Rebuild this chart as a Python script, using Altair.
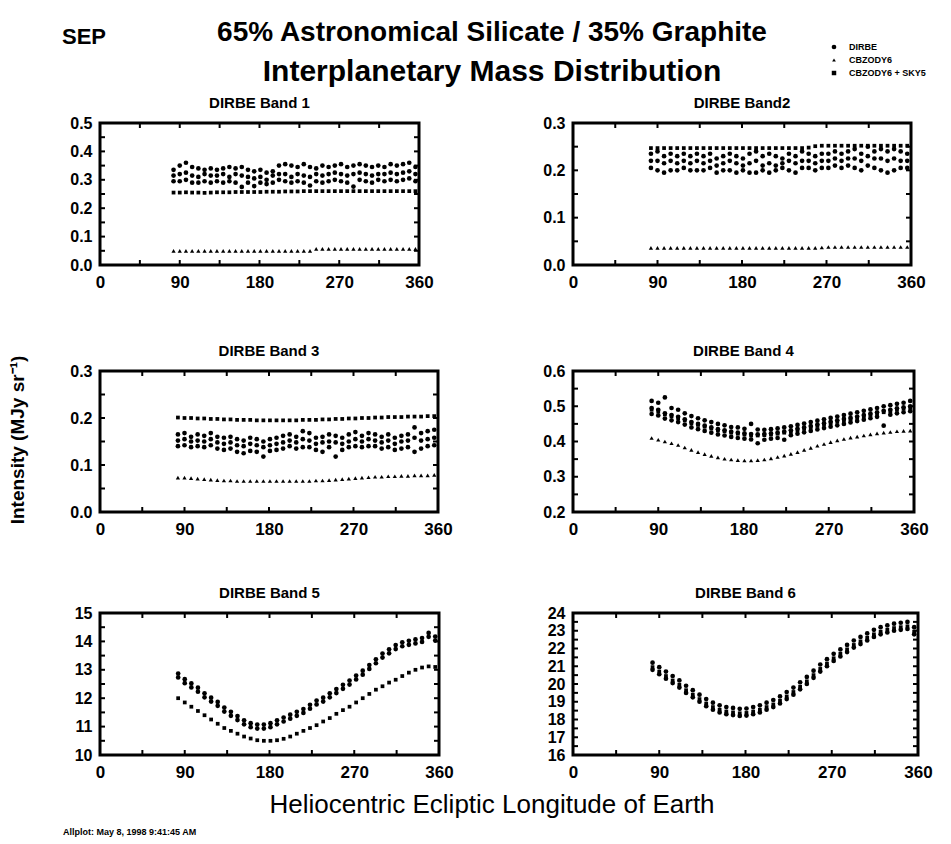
import altair as alt
import pandas as pd

FONT = "Liberation Sans"

LON = [83, 90, 97, 104, 111, 118, 125, 132, 139, 146, 153, 160, 167, 174, 181, 188, 195, 202, 209, 216,
       223, 230, 237, 244, 251, 258, 265, 272, 279, 286, 293, 300, 307, 314, 321, 328, 335, 342, 349, 356]

SERIES = ["DIRBE", "CBZODY6", "CBZODY6 + SKY5"]
SHAPES = ["circle", "triangle-up", "square"]
SIZES = [22, 14, 20]

# ---------------- Band 1 ----------------
b1_dirbe_hi = [0.335, 0.35, 0.36, 0.345, 0.34, 0.335, 0.34, 0.335, 0.34, 0.345, 0.34, 0.345, 0.335, 0.33, 0.335, 0.325, 0.33, 0.35, 0.355, 0.35,
               0.345, 0.355, 0.345, 0.34, 0.35, 0.345, 0.35, 0.355, 0.345, 0.35, 0.355, 0.35, 0.345, 0.35, 0.345, 0.355, 0.35, 0.355, 0.36, 0.345]
b1_dirbe_mid = [0.315, 0.32, 0.325, 0.315, 0.31, 0.32, 0.315, 0.315, 0.32, 0.31, 0.32, 0.315, 0.31, 0.305, 0.31, 0.3, 0.315, 0.32, 0.32, 0.31,
                0.32, 0.315, 0.31, 0.32, 0.315, 0.32, 0.325, 0.32, 0.315, 0.32, 0.325, 0.32, 0.315, 0.32, 0.32, 0.325, 0.32, 0.325, 0.33, 0.32]
b1_dirbe_lo = [0.295, 0.295, 0.3, 0.29, 0.29, 0.295, 0.29, 0.295, 0.29, 0.295, 0.29, 0.275, 0.29, 0.278, 0.29, 0.285, 0.29, 0.3, 0.295, 0.29,
               0.295, 0.29, 0.28, 0.295, 0.29, 0.295, 0.3, 0.295, 0.29, 0.276, 0.3, 0.295, 0.29, 0.3, 0.295, 0.3, 0.295, 0.3, 0.305, 0.295]
b1_model = [0.05, 0.05, 0.05, 0.05, 0.05, 0.05, 0.05, 0.05, 0.05, 0.05, 0.05, 0.05, 0.05, 0.05, 0.05, 0.05, 0.05, 0.05, 0.05, 0.05,
            0.05, 0.05, 0.05, 0.057, 0.057, 0.057, 0.057, 0.057, 0.057, 0.057, 0.057, 0.057, 0.057, 0.057, 0.057, 0.057, 0.057, 0.057, 0.057, 0.057]
b1_sky = [0.255, 0.255, 0.256, 0.255, 0.255, 0.254, 0.255, 0.256, 0.256, 0.256, 0.257, 0.257, 0.257, 0.257, 0.257, 0.258, 0.258, 0.258, 0.259, 0.259,
          0.259, 0.26, 0.26, 0.26, 0.26, 0.26, 0.26, 0.26, 0.26, 0.26, 0.26, 0.26, 0.26, 0.26, 0.26, 0.26, 0.26, 0.26, 0.26, 0.26]

# ---------------- Band 2 ----------------
b2_dirbe_hi = [0.235, 0.24, 0.23, 0.235, 0.23, 0.235, 0.23, 0.235, 0.23, 0.235, 0.225, 0.23, 0.235, 0.23, 0.225, 0.235, 0.24, 0.23, 0.235, 0.23,
               0.225, 0.235, 0.23, 0.24, 0.235, 0.23, 0.235, 0.235, 0.24, 0.235, 0.24, 0.245, 0.235, 0.25, 0.24, 0.245, 0.24, 0.245, 0.24, 0.235]
b2_dirbe_mid = [0.22, 0.22, 0.215, 0.22, 0.215, 0.22, 0.215, 0.22, 0.215, 0.22, 0.21, 0.215, 0.22, 0.215, 0.21, 0.215, 0.22, 0.21, 0.215, 0.21,
                0.215, 0.22, 0.215, 0.22, 0.22, 0.215, 0.22, 0.22, 0.225, 0.22, 0.225, 0.225, 0.22, 0.23, 0.225, 0.225, 0.22, 0.225, 0.22, 0.22]
b2_dirbe_lo = [0.205, 0.2, 0.195, 0.2, 0.2, 0.205, 0.2, 0.2, 0.2, 0.205, 0.195, 0.2, 0.2, 0.195, 0.2, 0.195, 0.195, 0.2, 0.195, 0.2,
               0.205, 0.2, 0.195, 0.205, 0.205, 0.2, 0.205, 0.205, 0.21, 0.205, 0.21, 0.205, 0.2, 0.21, 0.205, 0.2, 0.195, 0.2, 0.205, 0.205]
b2_model = [0.036, 0.036, 0.036, 0.036, 0.036, 0.036, 0.036, 0.036, 0.036, 0.036, 0.036, 0.036, 0.036, 0.036, 0.036, 0.036, 0.036, 0.036, 0.036, 0.036,
            0.036, 0.036, 0.036, 0.036, 0.036, 0.036, 0.037, 0.038, 0.038, 0.038, 0.038, 0.038, 0.038, 0.038, 0.038, 0.038, 0.038, 0.038, 0.038, 0.038]
b2_sky = [0.247, 0.247, 0.247, 0.247, 0.247, 0.247, 0.247, 0.247, 0.247, 0.247, 0.247, 0.247, 0.247, 0.247, 0.247, 0.247, 0.247, 0.247, 0.247, 0.247,
          0.247, 0.247, 0.247, 0.247, 0.248, 0.251, 0.252, 0.252, 0.252, 0.252, 0.252, 0.252, 0.252, 0.252, 0.252, 0.252, 0.252, 0.252, 0.252, 0.252]

# ---------------- Band 3 ----------------
b3_dirbe_hi = [0.165, 0.168, 0.16, 0.165, 0.162, 0.168, 0.16, 0.158, 0.16, 0.155, 0.152, 0.158, 0.155, 0.15, 0.155, 0.158, 0.162, 0.165, 0.16, 0.172,
               0.168, 0.158, 0.16, 0.165, 0.162, 0.158, 0.165, 0.17, 0.162, 0.168, 0.165, 0.16, 0.165, 0.158, 0.162, 0.165, 0.18, 0.168, 0.172, 0.175]
b3_dirbe_mid = [0.152, 0.155, 0.15, 0.152, 0.15, 0.155, 0.148, 0.145, 0.148, 0.142, 0.14, 0.145, 0.142, 0.138, 0.142, 0.145, 0.148, 0.152, 0.148, 0.155,
                0.152, 0.145, 0.148, 0.15, 0.148, 0.145, 0.15, 0.155, 0.15, 0.155, 0.152, 0.148, 0.152, 0.145, 0.15, 0.152, 0.158, 0.152, 0.155, 0.158]
b3_dirbe_lo = [0.14, 0.142, 0.138, 0.14, 0.138, 0.142, 0.135, 0.132, 0.135, 0.128, 0.125, 0.13, 0.128, 0.118, 0.13, 0.132, 0.135, 0.14, 0.135, 0.138,
               0.138, 0.132, 0.128, 0.138, 0.118, 0.132, 0.138, 0.14, 0.138, 0.14, 0.14, 0.135, 0.138, 0.132, 0.135, 0.138, 0.128, 0.135, 0.14, 0.142]
b3_model = [0.073, 0.073, 0.072, 0.071, 0.07, 0.069, 0.068, 0.067, 0.067, 0.066, 0.066, 0.066, 0.066, 0.066, 0.066, 0.066, 0.066, 0.066, 0.066, 0.066,
            0.066, 0.067, 0.067, 0.068, 0.069, 0.07, 0.071, 0.072, 0.073, 0.074, 0.075, 0.075, 0.076, 0.076, 0.077, 0.077, 0.078, 0.078, 0.078, 0.079]
b3_sky = [0.201, 0.2, 0.2, 0.199, 0.199, 0.198, 0.198, 0.197, 0.197, 0.196, 0.196, 0.196, 0.195, 0.195, 0.195, 0.195, 0.195, 0.195, 0.195, 0.196,
          0.196, 0.196, 0.197, 0.197, 0.198, 0.198, 0.199, 0.199, 0.2, 0.2, 0.201, 0.201, 0.202, 0.202, 0.202, 0.203, 0.203, 0.203, 0.204, 0.204]

# ---------------- Band 4 ----------------
b4_dirbe_hi = [0.515, 0.51, 0.525, 0.495, 0.49, 0.48, 0.472, 0.466, 0.46, 0.455, 0.45, 0.446, 0.441, 0.44, 0.436, 0.45, 0.434, 0.433, 0.435, 0.437,
               0.44, 0.443, 0.447, 0.451, 0.455, 0.459, 0.463, 0.467, 0.471, 0.475, 0.479, 0.483, 0.487, 0.491, 0.495, 0.5, 0.503, 0.507, 0.51, 0.515]
b4_dirbe_mid = [0.495, 0.49, 0.48, 0.475, 0.47, 0.463, 0.455, 0.45, 0.445, 0.44, 0.435, 0.432, 0.428, 0.425, 0.423, 0.421, 0.42, 0.421, 0.423, 0.425,
                0.428, 0.432, 0.436, 0.44, 0.444, 0.448, 0.452, 0.456, 0.46, 0.464, 0.467, 0.471, 0.475, 0.479, 0.483, 0.487, 0.49, 0.494, 0.497, 0.5]
b4_dirbe_lo = [0.478, 0.474, 0.465, 0.46, 0.455, 0.448, 0.44, 0.435, 0.43, 0.425, 0.42, 0.417, 0.413, 0.41, 0.408, 0.406, 0.395, 0.405, 0.408, 0.41,
               0.405, 0.418, 0.422, 0.426, 0.43, 0.434, 0.438, 0.442, 0.446, 0.45, 0.454, 0.458, 0.462, 0.466, 0.47, 0.445, 0.476, 0.48, 0.483, 0.486]
b4_model = [0.41, 0.405, 0.4, 0.395, 0.39, 0.383, 0.376, 0.37, 0.364, 0.359, 0.355, 0.351, 0.349, 0.347, 0.346, 0.346, 0.347, 0.349, 0.352, 0.356,
            0.36, 0.365, 0.37, 0.376, 0.382, 0.388, 0.393, 0.398, 0.403, 0.407, 0.411, 0.414, 0.417, 0.42, 0.423, 0.425, 0.427, 0.429, 0.43, 0.431]
b4_sky = [0.49, 0.485, 0.477, 0.472, 0.466, 0.46, 0.452, 0.447, 0.442, 0.437, 0.432, 0.429, 0.425, 0.422, 0.42, 0.418, 0.417, 0.418, 0.42, 0.422,
          0.425, 0.428, 0.432, 0.436, 0.44, 0.444, 0.448, 0.452, 0.456, 0.46, 0.463, 0.467, 0.471, 0.475, 0.479, 0.483, 0.486, 0.49, 0.493, 0.496]

# ---------------- Band 5 ----------------
b5_dirbe_hi = [12.87, 12.67, 12.52, 12.37, 12.17, 12.02, 11.87, 11.67, 11.52, 11.37, 11.22, 11.12, 11.07, 11.07, 11.12, 11.22, 11.32, 11.42, 11.52, 11.62,
               11.77, 11.92, 12.02, 12.17, 12.32, 12.47, 12.62, 12.8, 12.97, 13.17, 13.37, 13.57, 13.72, 13.87, 13.97, 14.02, 14.07, 14.12, 14.3, 14.17]
b5_dirbe_lo = [12.73, 12.53, 12.38, 12.23, 12.03, 11.88, 11.73, 11.53, 11.38, 11.23, 11.08, 10.98, 10.93, 10.93, 10.98, 11.08, 11.18, 11.28, 11.38, 11.48,
               11.63, 11.78, 11.88, 12.03, 12.18, 12.33, 12.48, 12.66, 12.83, 13.03, 13.23, 13.43, 13.58, 13.73, 13.83, 13.88, 13.93, 13.98, 14.16, 14.03]
b5_sky = [12.0, 11.85, 11.7, 11.55, 11.4, 11.25, 11.1, 10.95, 10.85, 10.75, 10.65, 10.58, 10.52, 10.5, 10.5, 10.52, 10.57, 10.65, 10.75, 10.85,
          10.95, 11.05, 11.18, 11.3, 11.45, 11.58, 11.7, 11.85, 12.0, 12.15, 12.3, 12.42, 12.55, 12.65, 12.78, 12.9, 13.0, 13.08, 13.12, 13.1]

# ---------------- Band 6 ----------------
b6_dirbe_hi = [21.2, 20.95, 20.7, 20.45, 20.2, 19.9, 19.65, 19.4, 19.15, 18.95, 18.8, 18.7, 18.65, 18.6, 18.62, 18.7, 18.8, 18.95, 19.1, 19.3,
               19.55, 19.8, 20.1, 20.4, 20.75, 21.1, 21.4, 21.7, 21.95, 22.2, 22.45, 22.65, 22.85, 23.05, 23.2, 23.3, 23.4, 23.45, 23.5, 23.2]
b6_dirbe_lo = [20.8, 20.55, 20.3, 20.05, 19.8, 19.5, 19.25, 19.0, 18.75, 18.55, 18.4, 18.3, 18.25, 18.2, 18.22, 18.3, 18.4, 18.55, 18.7, 18.9,
               19.15, 19.4, 19.7, 20.0, 20.35, 20.7, 21.0, 21.3, 21.55, 21.8, 22.05, 22.25, 22.45, 22.65, 22.8, 22.9, 23.0, 23.05, 23.1, 22.8]
b6_sky = [20.95, 20.7, 20.45, 20.2, 19.95, 19.65, 19.4, 19.15, 18.9, 18.7, 18.55, 18.45, 18.4, 18.35, 18.37, 18.45, 18.55, 18.7, 18.85, 19.05,
          19.3, 19.55, 19.85, 20.15, 20.5, 20.85, 21.15, 21.45, 21.7, 21.95, 22.2, 22.4, 22.6, 22.8, 22.95, 23.05, 23.15, 23.2, 23.25, 22.95]

X_LABELS = [0, 90, 180, 270, 360]
X_MINOR = [45, 90, 135, 180, 225, 270, 315]

TITLE_1 = "65% Astronomical Silicate / 35% Graphite"
TITLE_2 = "Interplanetary Mass Distribution"
X_TITLE = "Heliocentric Ecliptic Longitude of Earth"
Y_TITLE = "Intensity (MJy sr\u207b\u00b9)"
STAMP = "Allplot: May 8, 1998 9:41:45 AM"


def band_table(dirbe_lists, model, sky):
    rows = []
    for vals in dirbe_lists:
        rows += [{"lon": l, "val": v, "series": "DIRBE"} for l, v in zip(LON, vals)]
    if model is not None:
        rows += [{"lon": l, "val": v, "series": "CBZODY6"} for l, v in zip(LON, model)]
    if sky is not None:
        rows += [{"lon": l, "val": v, "series": "CBZODY6 + SKY5"} for l, v in zip(LON, sky)]
    return pd.DataFrame(rows)


NOVIEW = alt.ViewBackground(stroke=None)


def panel(df, title, ydom, ymajor, yminor, fmt, w, h=142):
    xs = alt.Scale(domain=[0, 360], nice=False, zero=False)
    ys = alt.Scale(domain=ydom, nice=False, zero=False)
    xax = alt.Axis(values=X_LABELS, format="d", ticks=False, domain=False, grid=False,
                   labelPadding=9, labelFlush=False, labelFontSize=17, labelOverlap=False)
    yax = alt.Axis(values=ymajor, format=fmt, ticks=False, domain=False, grid=False,
                   labelPadding=8, labelFontSize=16, labelOverlap=False, labelFlush=False)
    pts = alt.Chart(df).mark_point(filled=True, opacity=1, color="black").encode(
        x=alt.X("lon:Q", scale=xs, title=None, axis=xax),
        y=alt.Y("val:Q", scale=ys, title=None, axis=yax),
        shape=alt.Shape("series:N", scale=alt.Scale(domain=SERIES, range=SHAPES), legend=None),
        size=alt.Size("series:N", scale=alt.Scale(domain=SERIES, range=SIZES), legend=None),
    )
    xt = alt.Chart(pd.DataFrame({"t": X_MINOR})).mark_rule(color="black", strokeWidth=2)
    bottom = xt.encode(x=alt.X("t:Q", scale=xs, title=None, axis=xax), y=alt.value(h), y2=alt.value(h - 5))
    top = xt.encode(x=alt.X("t:Q", scale=xs, title=None, axis=xax), y=alt.value(0), y2=alt.value(5))
    yt = alt.Chart(pd.DataFrame({"t": yminor})).mark_rule(color="black", strokeWidth=2)
    left = yt.encode(y=alt.Y("t:Q", scale=ys, title=None, axis=yax), x=alt.value(0), x2=alt.value(5))
    right = yt.encode(y=alt.Y("t:Q", scale=ys, title=None, axis=yax), x=alt.value(w), x2=alt.value(w - 5))
    return alt.layer(pts, bottom, top, left, right).properties(
        width=w, height=h,
        title=alt.TitleParams(title, fontSize=15, fontWeight="bold", font=FONT, offset=4, anchor="middle"),
        view=alt.ViewBackground(stroke="black", strokeWidth=3, fill="white"),
    )


def spacer(w, h):
    return alt.Chart(pd.DataFrame({"t": [""]})).mark_text().encode(text="t:N").properties(
        width=w, height=h, view=NOVIEW)


p1 = panel(band_table([b1_dirbe_lo, b1_dirbe_mid, b1_dirbe_hi], b1_model, b1_sky), "DIRBE Band 1",
           [0, 0.5], [0, 0.1, 0.2, 0.3, 0.4, 0.5], [0.05, 0.1, 0.15, 0.2, 0.25, 0.3, 0.35, 0.4, 0.45], ".1f", 319)
p2 = panel(band_table([b2_dirbe_lo, b2_dirbe_mid, b2_dirbe_hi], b2_model, b2_sky), "DIRBE Band2",
           [0, 0.3], [0, 0.1, 0.2, 0.3], [0.05, 0.1, 0.15, 0.2, 0.25], ".1f", 338)
p3 = panel(band_table([b3_dirbe_lo, b3_dirbe_mid, b3_dirbe_hi], b3_model, b3_sky), "DIRBE Band 3",
           [0, 0.3], [0, 0.1, 0.2, 0.3], [0.05, 0.1, 0.15, 0.2, 0.25], ".1f", 338, 141)
p4 = panel(band_table([b4_dirbe_lo, b4_dirbe_mid, b4_dirbe_hi], b4_model, b4_sky), "DIRBE Band 4",
           [0.2, 0.6], [0.2, 0.3, 0.4, 0.5, 0.6], [0.25, 0.3, 0.35, 0.4, 0.45, 0.5, 0.55], ".1f", 341, 141)
p5 = panel(band_table([b5_dirbe_lo, b5_dirbe_hi], None, b5_sky), "DIRBE Band 5",
           [10, 15], [10, 11, 12, 13, 14, 15], [10.5, 11, 11.5, 12, 12.5, 13, 13.5, 14, 14.5], "d", 339)
p6 = panel(band_table([b6_dirbe_lo, b6_dirbe_hi], None, b6_sky), "DIRBE Band 6",
           [16, 24], [16, 17, 18, 19, 20, 21, 22, 23, 24],
           [16.5, 17, 17.5, 18, 18.5, 19, 19.5, 20, 20.5, 21, 21.5, 22, 22.5, 23, 23.5], "d", 345)

# ---- header (first grid cell; texts overflow the cell) ----
sep = alt.Chart(pd.DataFrame({"t": ["SEP"]})).mark_text(
    font=FONT, fontSize=22, fontWeight="bold", align="center", baseline="alphabetic").encode(
    text="t:N", x=alt.value(75), y=alt.value(36))
ttl1 = alt.Chart(pd.DataFrame({"t": [TITLE_1]})).mark_text(
    font=FONT, fontSize=28, fontWeight="bold", align="center", baseline="alphabetic").encode(
    text="t:N", x=alt.value(483), y=alt.value(33))
ttl2 = alt.Chart(pd.DataFrame({"t": [TITLE_2]})).mark_text(
    font=FONT, fontSize=30, fontWeight="bold", align="center", baseline="alphabetic").encode(
    text="t:N", x=alt.value(483), y=alt.value(73))
legend_layers = []
for i, s in enumerate(SERIES):
    row_df = pd.DataFrame({"series": [s]})
    legend_layers.append(alt.Chart(row_df).mark_point(
        shape=SHAPES[i], size=SIZES[i], filled=True, opacity=1, color="black").encode(
        x=alt.value(825), y=alt.value(39 + 13 * i)))
    legend_layers.append(alt.Chart(row_df).mark_text(
        font=FONT, fontSize=9, fontWeight="bold", align="left", baseline="middle").encode(
        text="series:N", x=alt.value(840), y=alt.value(39 + 13 * i)))
header = alt.layer(sep, ttl1, ttl2, *legend_layers).properties(width=91, height=115, view=NOVIEW)

# ---- y title (left cell of the middle row) ----
ytitle = alt.Chart(pd.DataFrame({"t": [Y_TITLE]})).mark_text(
    font=FONT, fontSize=19, fontWeight="bold", angle=270, align="center", baseline="middle").encode(
    text="t:N", x=alt.value(9), y=alt.value(69)).properties(width=91, height=141, view=NOVIEW)

# ---- footer ----
xt_title = alt.Chart(pd.DataFrame({"t": [X_TITLE]})).mark_text(
    font=FONT, fontSize=26, align="center", baseline="alphabetic").encode(
    text="t:N", x=alt.value(483), y=alt.value(58))
stamp = alt.Chart(pd.DataFrame({"t": [STAMP]})).mark_text(
    font=FONT, fontSize=9, fontWeight="bold", align="left", baseline="alphabetic").encode(
    text="t:N", x=alt.value(54), y=alt.value(80))
footer = alt.layer(xt_title, stamp).properties(width=91, height=85, view=NOVIEW)

cells = [
    header, spacer(338, 115), spacer(134, 115), spacer(338, 115),
    spacer(91, 142), p1, spacer(134, 142), p2,
    spacer(91, 106), spacer(338, 106), spacer(134, 106), spacer(338, 106),
    ytitle, p3, spacer(134, 141), p4,
    spacer(91, 101), spacer(338, 101), spacer(134, 101), spacer(338, 101),
    spacer(91, 142), p5, spacer(134, 142), p6,
    footer, spacer(338, 85), spacer(134, 85), spacer(338, 85),
]

chart = alt.concat(*cells, columns=4, spacing=0, bounds="flush").resolve_scale(
    shape="independent", size="independent", y="independent", x="independent").properties(
    padding=0).configure_view(stroke=None).configure(font=FONT).configure_axis(
    labelFont=FONT, labelFontWeight="bold", labelColor="black")

chart.save("out.html", embed_options={"renderer": "svg", "actions": False})
